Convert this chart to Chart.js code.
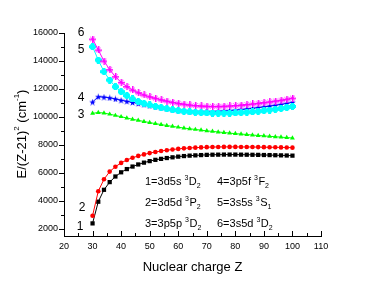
<!DOCTYPE html>
<html><head><meta charset="utf-8">
<script src="https://cdn.jsdelivr.net/npm/chart.js@4"></script>
<style>html,body{margin:0;padding:0;background:#fff}</style>
</head><body>
<canvas id="c" width="374" height="286"></canvas>
<script>
const Z = [30,32,34,36,38,40,42,44,46,48,50,52,54,56,58,60,62,64,66,68,70,72,74,76,78,80,82,84,86,88,90,92,94,96,98,100];
const s1 = [2400,3950,4800,5350,5750,6050,6280,6460,6610,6740,6850,6940,7010,7070,7120,7170,7210,7240,7260,7280,7295,7305,7310,7315,7315,7315,7310,7305,7300,7295,7285,7280,7270,7260,7250,7240];
const s2 = [2950,4700,5550,6100,6450,6720,6930,7090,7220,7330,7420,7500,7570,7630,7680,7720,7760,7790,7810,7830,7845,7855,7860,7865,7865,7865,7860,7860,7855,7850,7845,7840,7835,7830,7820,7810];
const s3 = [10260,10320,10280,10200,10110,10020,9930,9840,9760,9680,9600,9530,9460,9390,9330,9270,9210,9160,9110,9060,9010,8970,8930,8890,8850,8810,8780,8750,8710,8680,8650,8620,8590,8560,8530,8500];
const s4 = [11070,11450,11420,11370,11290,11200,11120,11040,10960,10880,10800,10730,10660,10600,10540,10490,10450,10420,10400,10390,10390,10400,10410,10430,10460,10490,10530,10570,10620,10670,10720,10780,10840,10900,10970,11050];
const s5 = [15020,14070,13240,12640,12160,11810,11530,11290,11110,10970,10860,10760,10670,10590,10520,10460,10410,10370,10340,10310,10290,10280,10270,10270,10280,10290,10310,10340,10370,10410,10450,10500,10550,10610,10670,10750];
const s6 = [15570,14790,14000,13380,12880,12480,12170,11930,11740,11580,11450,11340,11230,11140,11050,10980,10920,10860,10820,10790,10770,10760,10760,10770,10790,10820,10850,10890,10930,10980,11030,11080,11140,11200,11270,11350];
const xTicks = [20,30,40,50,60,70,80,90,100,110];
const yTicks = [2000,4000,6000,8000,10000,12000,14000,16000];
const curveLabels = ['1','2','3','4','5','6'];
const legendLines = [
  ['1=3d5s ','3','D','2'], ['2=3d5d ','3','P','2'], ['3=3p5p ','3','D','2'],
  ['4=3p5f ','3','F','2'], ['5=3s5s ','3','S','1'], ['6=3s5d ','3','D','2']
];
const xTitle = 'Nuclear charge Z';

const FONT = "'Liberation Sans', Arial, sans-serif";

function mk(size, fn){
  const c = document.createElement('canvas'); c.width = size; c.height = size;
  const g = c.getContext('2d'); fn(g, size); return c;
}
const cyanMark = mk(7, (g)=>{ g.fillStyle='#00ffff'; g.fillRect(2,0,3,7); g.fillRect(0,2,7,3); g.fillRect(1,1,5,5); });
const magMark = mk(7, (g)=>{ g.fillStyle='#ff00ff'; g.fillRect(3,0,1.5,7); g.fillRect(0,3,7,1.5);
  g.strokeStyle='rgba(255,0,255,0.6)'; g.lineWidth=1; g.beginPath(); g.moveTo(1,1); g.lineTo(6,6); g.moveTo(6,1); g.lineTo(1,6); g.stroke(); });
const blueMark = mk(7, (g)=>{ g.fillStyle='#0000ff'; g.beginPath();
  for(let i=0;i<10;i++){ const r = i%2?1.4:3.5; const a = -Math.PI/2 + i*Math.PI/5; const px=3.5+r*Math.cos(a), py=3.8+r*Math.sin(a); i?g.lineTo(px,py):g.moveTo(px,py);} g.closePath(); g.fill(); });

const pts = arr => Z.map((z,i)=>({x:z,y:arr[i]}));

function ds(data, color, style, radius){
  return {data: pts(data), borderColor: color, backgroundColor: color, borderWidth: 1,
    pointStyle: style, pointRadius: radius, pointBorderWidth: 0, pointHoverRadius: radius, tension: 0, clip: false};
}

function rich(ctx, x, y, parts){
  ctx.textBaseline = 'alphabetic'; ctx.textAlign = 'left';
  let cx = x;
  ctx.font = '11px ' + FONT; ctx.fillText(parts[0], cx, y); cx += ctx.measureText(parts[0]).width;
  ctx.font = '7px ' + FONT; ctx.fillText(parts[1], cx, y-5); cx += ctx.measureText(parts[1]).width + 0.5;
  ctx.font = '11px ' + FONT; ctx.fillText(parts[2], cx, y); cx += ctx.measureText(parts[2]).width;
  ctx.font = '7px ' + FONT; ctx.fillText(parts[3], cx, y+3);
}

const deco = {
  id: 'deco',
  afterDraw(chart){
    const ctx = chart.ctx, xs = chart.scales.x, ys = chart.scales.y;
    const ca = chart.chartArea;
    ctx.save();
    ctx.strokeStyle = '#000'; ctx.lineWidth = 1;
    ctx.beginPath();
    for (let v = 20; v <= 110; v += 5){
      const px = Math.round(xs.getPixelForValue(v)) + 0.5;
      const len = v % 10 === 0 ? 5 : 3;
      ctx.moveTo(px, ca.bottom); ctx.lineTo(px, ca.bottom - len);
    }
    for (let v = 2000; v <= 16000; v += 1000){
      const py = Math.round(ys.getPixelForValue(v)) + 0.5;
      const len = v % 2000 === 0 ? 5 : 3;
      ctx.moveTo(ca.left, py); ctx.lineTo(ca.left - len, py);
    }
    ctx.stroke();
    ctx.fillStyle = '#000';
    ctx.font = '13px ' + FONT; ctx.textAlign = 'center'; ctx.textBaseline = 'middle';
    ctx.fillText(xTitle, (ca.left + ca.right)/2, 267);
    ctx.save();
    ctx.translate(22, 134); ctx.rotate(-Math.PI/2);
    const segs = [['E/(Z-21)',13,0],['2',8,-5],[' (cm',13,0],['-1',8,-5],[')',13,0]];
    let tw = 0; segs.forEach(s=>{ctx.font = s[1]+'px '+FONT; tw += ctx.measureText(s[0]).width;});
    let cx = -tw/2; ctx.textAlign='left'; ctx.textBaseline='middle';
    segs.forEach(s=>{ctx.font = s[1]+'px '+FONT; ctx.fillText(s[0], cx, s[2]); cx += ctx.measureText(s[0]).width;});
    ctx.restore();
    ctx.font = '12px ' + FONT; ctx.textAlign = 'center'; ctx.textBaseline = 'middle';
    const lp = [[80,227],[82,208],[81,115],[81,98],[81,50],[81,33]];
    curveLabels.forEach((t,i)=>ctx.fillText(t, lp[i][0], lp[i][1]));
    const rows = [185, 206, 227];
    legendLines.forEach((p,i)=>{ rich(ctx, i<3?145:217, rows[i%3], p); });
    ctx.restore();
  }
};

new Chart(document.getElementById('c'), {
  type: 'line',
  data: { datasets: [
    ds(s6, '#ff00ff', magMark, 4),
    ds(s5, '#00ffff', cyanMark, 4),
    ds(s4, '#0000ff', blueMark, 4),
    ds(s3, '#00ff00', 'triangle', 2.8),
    ds(s2, '#ff0000', 'circle', 2.3),
    ds(s1, '#000000', 'rect', 3)
  ]},
  options: {
    responsive: false, animation: false, devicePixelRatio: 1,
    layout: { padding: { top: 33, right: 53, left: 0, bottom: 0 } },
    plugins: { legend: { display: false }, tooltip: { enabled: false } },
    scales: {
      x: { type: 'linear', min: 20, max: 110,
        afterBuildTicks: s => { s.ticks = xTicks.map(v=>({value:v})); },
        afterFit: s => { s.height = 50; },
        ticks: { color: '#000', font: { size: 9, family: FONT }, padding: 5, maxRotation: 0, autoSkip: false, callback: v => String(v) },
        grid: { display: true, drawOnChartArea: false, drawTicks: false },
        border: { display: true, color: '#000', width: 1 } },
      y: { type: 'linear', min: 1500, max: 16000,
        afterBuildTicks: s => { s.ticks = yTicks.map(v=>({value:v})); },
        afterFit: s => { s.width = 64; },
        ticks: { color: '#000', font: { size: 9, family: FONT }, padding: 6, autoSkip: false, callback: v => String(v) },
        grid: { display: true, drawOnChartArea: false, drawTicks: false },
        border: { display: true, color: '#000', width: 1 } }
    }
  },
  plugins: [deco]
});
</script>
</body></html>
